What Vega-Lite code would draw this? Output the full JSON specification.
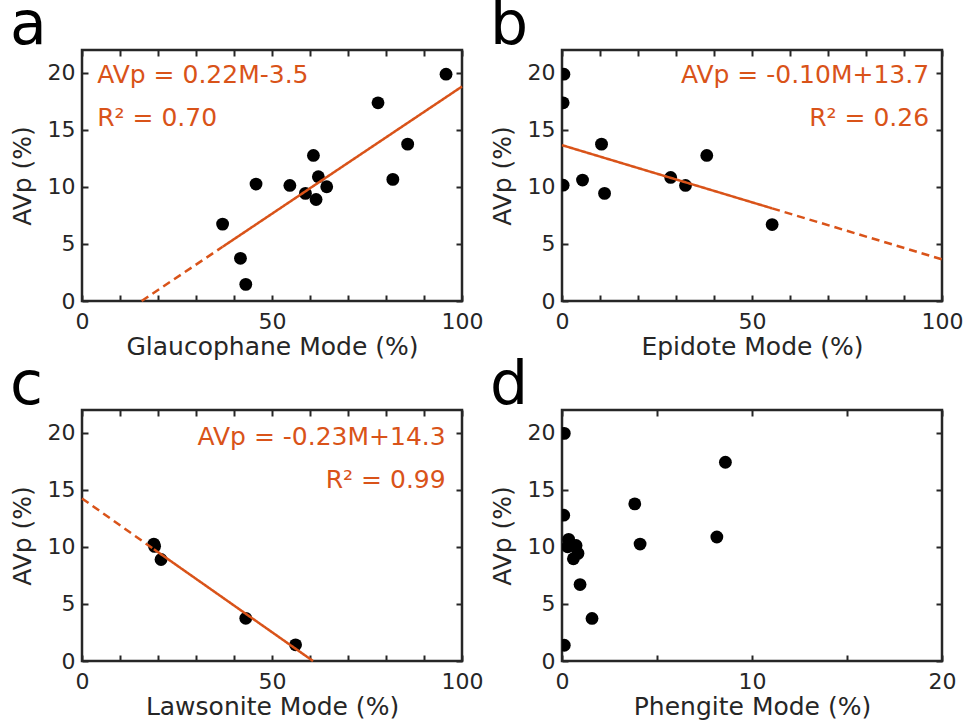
{
  "$schema": "https://vega.github.io/schema/vega-lite/v6.json",
  "background": "white",
  "padding": {"left": 8, "top": -6, "right": 0, "bottom": 0},
  "datasets": {
    "glaucophane": [
      {"mode": 95.8, "avp": 19.88}, {"mode": 77.9, "avp": 17.37}, {"mode": 85.7, "avp": 13.75},
      {"mode": 81.8, "avp": 10.66}, {"mode": 60.9, "avp": 12.76}, {"mode": 62.2, "avp": 10.89},
      {"mode": 64.4, "avp": 10.01}, {"mode": 54.7, "avp": 10.13}, {"mode": 45.8, "avp": 10.25},
      {"mode": 58.8, "avp": 9.43}, {"mode": 61.6, "avp": 8.9}, {"mode": 37.0, "avp": 6.74},
      {"mode": 41.7, "avp": 3.74}, {"mode": 43.1, "avp": 1.46}
    ],
    "glaucophane_fit": [
      {"mode": 15.7, "avp": 0, "part": "dashed"}, {"mode": 37.0, "avp": 4.75, "part": "dashed"},
      {"mode": 37.0, "avp": 4.75, "part": "solid"}, {"mode": 100, "avp": 18.8, "part": "solid"}
    ],
    "epidote": [
      {"mode": 0.5, "avp": 19.88}, {"mode": 0.3, "avp": 17.37}, {"mode": 10.4, "avp": 13.75},
      {"mode": 38.1, "avp": 12.76}, {"mode": 28.6, "avp": 10.83}, {"mode": 32.5, "avp": 10.13},
      {"mode": 5.4, "avp": 10.6}, {"mode": 0.3, "avp": 10.15}, {"mode": 11.2, "avp": 9.43},
      {"mode": 55.3, "avp": 6.7}
    ],
    "epidote_fit": [
      {"mode": 0, "avp": 13.66, "part": "solid"}, {"mode": 55.3, "avp": 8.12, "part": "solid"},
      {"mode": 55.3, "avp": 8.12, "part": "dashed"}, {"mode": 100, "avp": 3.65, "part": "dashed"}
    ],
    "lawsonite": [
      {"mode": 18.9, "avp": 10.25}, {"mode": 19.1, "avp": 10.05}, {"mode": 20.8, "avp": 8.9},
      {"mode": 43.1, "avp": 3.74}, {"mode": 56.2, "avp": 1.42}
    ],
    "lawsonite_fit": [
      {"mode": 0, "avp": 14.25, "part": "dashed"}, {"mode": 18.9, "avp": 9.8, "part": "dashed"},
      {"mode": 18.9, "avp": 9.8, "part": "solid"}, {"mode": 60.8, "avp": 0, "part": "solid"}
    ],
    "phengite": [
      {"mode": 0.12, "avp": 19.95}, {"mode": 8.6, "avp": 17.42}, {"mode": 3.83, "avp": 13.77},
      {"mode": 4.11, "avp": 10.25}, {"mode": 8.15, "avp": 10.87}, {"mode": 0.09, "avp": 12.78},
      {"mode": 0.35, "avp": 10.66}, {"mode": 0.74, "avp": 10.13}, {"mode": 0.84, "avp": 9.43},
      {"mode": 0.6, "avp": 8.96}, {"mode": 0.95, "avp": 6.7}, {"mode": 1.58, "avp": 3.73},
      {"mode": 0.12, "avp": 1.38}, {"mode": 0.3, "avp": 10.01}
    ]
  },
  "config": {
    "font": "DejaVu Sans",
    "view": {"stroke": "#262626", "strokeWidth": 2.5},
    "axis": {
      "labelFont": "DejaVu Sans", "labelFontSize": 22, "labelColor": "#262626",
      "titleFont": "DejaVu Sans", "titleFontSize": 25, "titleFontWeight": "normal", "titleColor": "#262626",
      "tickColor": "#262626", "tickWidth": 2, "tickSize": -6,
      "domain": false, "grid": false, "labelFlush": false, "labelOverlap": false, "labelBound": false
    },
    "axisX": {"labelPadding": 16, "titlePadding": 2},
    "axisY": {"labelPadding": 13, "titlePadding": 12},
    "title": {"font": "DejaVu Sans", "fontSize": 60, "fontWeight": "normal", "color": "black", "anchor": "start", "frame": "group", "dx": -72, "dy": 10, "offset": 2, "baseline": "alphabetic"}
  },
  "columns": 2,
  "spacing": {"row": 109, "column": 100},
  "bounds": "flush",
  "concat": [
    {
      "title": "a",
      "width": 380, "height": 251,
      "resolve": {"axis": {"x": "independent", "y": "independent"}},
      "layer": [
        {
          "data": {"name": "glaucophane"},
          "mark": {"type": "circle", "size": 165, "color": "black", "opacity": 1, "clip": true},
          "encoding": {
            "x": {"field": "mode", "type": "quantitative", "scale": {"domain": [0, 100], "nice": false},
                  "axis": {"orient": "bottom", "title": "Glaucophane Mode (%)", "values": [0,10,20,30,40,50,60,70,80,90,100], "labelExpr": "datum.value % 50 === 0 ? datum.label : ''"}},
            "y": {"field": "avp", "type": "quantitative", "scale": {"domain": [0, 22], "nice": false},
                  "axis": {"orient": "left", "title": "AVp (%)", "values": [0,5,10,15,20]}}
          }
        },
        {
          "data": {"name": "glaucophane_fit"},
          "mark": {"type": "line", "color": "#D95319", "strokeWidth": 2.5},
          "encoding": {
            "x": {"field": "mode", "type": "quantitative", "axis": {"orient": "top", "labels": false, "title": null, "values": [0,10,20,30,40,50,60,70,80,90,100]}},
            "y": {"field": "avp", "type": "quantitative", "axis": {"orient": "right", "labels": false, "title": null, "values": [0,5,10,15,20]}},
            "strokeDash": {"field": "part", "type": "nominal", "scale": {"domain": ["solid", "dashed"], "range": [[1, 0], [8, 5]]}, "legend": null}
          }
        },
        {
          "data": {"values": [{}]},
          "mark": {"type": "text", "align": "left", "baseline": "alphabetic", "fontSize": 25, "color": "#D95319"},
          "encoding": {
            "x": {"datum": 4, "type": "quantitative", "axis": null},
            "y": {"datum": 19.15, "type": "quantitative", "axis": null},
            "text": {"value": "AVp = 0.22M-3.5"}
          }
        },
        {
          "data": {"values": [{}]},
          "mark": {"type": "text", "align": "left", "baseline": "alphabetic", "fontSize": 25, "color": "#D95319"},
          "encoding": {
            "x": {"datum": 4, "type": "quantitative", "axis": null},
            "y": {"datum": 15.35, "type": "quantitative", "axis": null},
            "text": {"value": "R² = 0.70"}
          }
        }
      ]
    },
    {
      "title": "b",
      "width": 380, "height": 251,
      "resolve": {"axis": {"x": "independent", "y": "independent"}},
      "layer": [
        {
          "data": {"name": "epidote"},
          "mark": {"type": "circle", "size": 165, "color": "black", "opacity": 1, "clip": true},
          "encoding": {
            "x": {"field": "mode", "type": "quantitative", "scale": {"domain": [0, 100], "nice": false},
                  "axis": {"orient": "bottom", "title": "Epidote Mode (%)", "values": [0,10,20,30,40,50,60,70,80,90,100], "labelExpr": "datum.value % 50 === 0 ? datum.label : ''"}},
            "y": {"field": "avp", "type": "quantitative", "scale": {"domain": [0, 22], "nice": false},
                  "axis": {"orient": "left", "title": "AVp (%)", "values": [0,5,10,15,20]}}
          }
        },
        {
          "data": {"name": "epidote_fit"},
          "mark": {"type": "line", "color": "#D95319", "strokeWidth": 2.5},
          "encoding": {
            "x": {"field": "mode", "type": "quantitative", "axis": {"orient": "top", "labels": false, "title": null, "values": [0,10,20,30,40,50,60,70,80,90,100]}},
            "y": {"field": "avp", "type": "quantitative", "axis": {"orient": "right", "labels": false, "title": null, "values": [0,5,10,15,20]}},
            "strokeDash": {"field": "part", "type": "nominal", "scale": {"domain": ["solid", "dashed"], "range": [[1, 0], [8, 5]]}, "legend": null}
          }
        },
        {
          "data": {"values": [{}]},
          "mark": {"type": "text", "align": "right", "baseline": "alphabetic", "fontSize": 25, "color": "#D95319"},
          "encoding": {
            "x": {"datum": 96.6, "type": "quantitative", "axis": null},
            "y": {"datum": 19.15, "type": "quantitative", "axis": null},
            "text": {"value": "AVp = -0.10M+13.7"}
          }
        },
        {
          "data": {"values": [{}]},
          "mark": {"type": "text", "align": "right", "baseline": "alphabetic", "fontSize": 25, "color": "#D95319"},
          "encoding": {
            "x": {"datum": 96.6, "type": "quantitative", "axis": null},
            "y": {"datum": 15.35, "type": "quantitative", "axis": null},
            "text": {"value": "R² = 0.26"}
          }
        }
      ]
    },
    {
      "title": "c",
      "width": 380, "height": 251,
      "resolve": {"axis": {"x": "independent", "y": "independent"}},
      "layer": [
        {
          "data": {"name": "lawsonite"},
          "mark": {"type": "circle", "size": 165, "color": "black", "opacity": 1, "clip": true},
          "encoding": {
            "x": {"field": "mode", "type": "quantitative", "scale": {"domain": [0, 100], "nice": false},
                  "axis": {"orient": "bottom", "title": "Lawsonite Mode (%)", "values": [0,10,20,30,40,50,60,70,80,90,100], "labelExpr": "datum.value % 50 === 0 ? datum.label : ''"}},
            "y": {"field": "avp", "type": "quantitative", "scale": {"domain": [0, 22], "nice": false},
                  "axis": {"orient": "left", "title": "AVp (%)", "values": [0,5,10,15,20]}}
          }
        },
        {
          "data": {"name": "lawsonite_fit"},
          "mark": {"type": "line", "color": "#D95319", "strokeWidth": 2.5},
          "encoding": {
            "x": {"field": "mode", "type": "quantitative", "axis": {"orient": "top", "labels": false, "title": null, "values": [0,10,20,30,40,50,60,70,80,90,100]}},
            "y": {"field": "avp", "type": "quantitative", "axis": {"orient": "right", "labels": false, "title": null, "values": [0,5,10,15,20]}},
            "strokeDash": {"field": "part", "type": "nominal", "scale": {"domain": ["solid", "dashed"], "range": [[1, 0], [8, 5]]}, "legend": null}
          }
        },
        {
          "data": {"values": [{}]},
          "mark": {"type": "text", "align": "right", "baseline": "alphabetic", "fontSize": 25, "color": "#D95319"},
          "encoding": {
            "x": {"datum": 95.7, "type": "quantitative", "axis": null},
            "y": {"datum": 18.9, "type": "quantitative", "axis": null},
            "text": {"value": "AVp = -0.23M+14.3"}
          }
        },
        {
          "data": {"values": [{}]},
          "mark": {"type": "text", "align": "right", "baseline": "alphabetic", "fontSize": 25, "color": "#D95319"},
          "encoding": {
            "x": {"datum": 95.7, "type": "quantitative", "axis": null},
            "y": {"datum": 15.13, "type": "quantitative", "axis": null},
            "text": {"value": "R² = 0.99"}
          }
        }
      ]
    },
    {
      "title": "d",
      "width": 380, "height": 251,
      "resolve": {"axis": {"x": "independent", "y": "independent"}},
      "layer": [
        {
          "data": {"name": "phengite"},
          "mark": {"type": "circle", "size": 165, "color": "black", "opacity": 1, "clip": true},
          "encoding": {
            "x": {"field": "mode", "type": "quantitative", "scale": {"domain": [0, 20], "nice": false},
                  "axis": {"orient": "bottom", "title": "Phengite Mode (%)", "values": [0,5,10,15,20], "labelExpr": "datum.value % 10 === 0 ? datum.label : ''"}},
            "y": {"field": "avp", "type": "quantitative", "scale": {"domain": [0, 22], "nice": false},
                  "axis": {"orient": "left", "title": "AVp (%)", "values": [0,5,10,15,20]}}
          }
        },
        {
          "data": {"name": "phengite"},
          "mark": {"type": "circle", "size": 165, "opacity": 0, "clip": true},
          "encoding": {
            "x": {"field": "mode", "type": "quantitative", "axis": {"orient": "top", "labels": false, "title": null, "values": [0,5,10,15,20]}},
            "y": {"field": "avp", "type": "quantitative", "axis": {"orient": "right", "labels": false, "title": null, "values": [0,5,10,15,20]}}
          }
        }
      ]
    }
  ]
}
